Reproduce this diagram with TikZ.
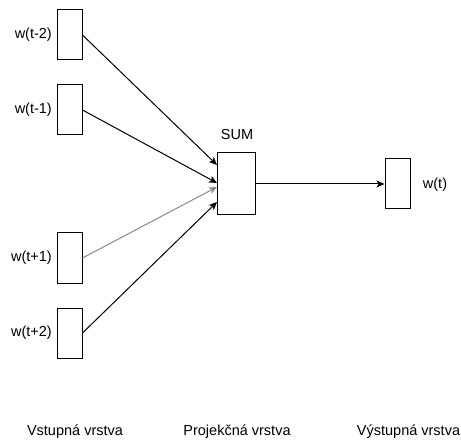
\documentclass[tikz,border=0pt]{standalone}
\usepackage{fontspec}
\setmainfont{Liberation Sans}
\usetikzlibrary{arrows.meta}
\begin{document}
\begin{tikzpicture}[x=1pt,y=-1pt,
  every node/.style={font=\fontsize{14.5}{16}\selectfont},
  wordbox/.style={draw=black,line width=1pt,fill=white,minimum width=25pt,minimum height=50pt,inner sep=0pt},
  sumbox/.style={draw=black,line width=1pt,fill=white,minimum width=38pt,minimum height=62pt,inner sep=0pt},
  link/.style={line width=1pt,-{Stealth[length=8pt,width=7pt,inset=2pt]}},
  lbl/.style={inner sep=0pt}]
\useasboundingbox (0,0) rectangle (461,441);

% input layer
\node[wordbox] (in1) at (69.5,35) {};
\node[wordbox] (in2) at (69.5,110) {};
\node[wordbox] (in3) at (69.5,258) {};
\node[wordbox] (in4) at (69.5,333) {};
\node[lbl,anchor=east] (l1) at (52,35) {w(t-2)};
\node[lbl,anchor=east] (l2) at (52,110) {w(t-1)};
\node[lbl,anchor=east] (l3) at (52,258) {w(t+1)};
\node[lbl,anchor=east] (l4) at (52,333) {w(t+2)};

% projection layer
\node[sumbox] (sum) at (236,184) {};
\node[lbl] (sumlbl) at (237,135) {SUM};

% output layer
\node[wordbox] (out) at (397.5,184) {};
\node[lbl] (outlbl) at (435,185) {w(t)};

% connections
\coordinate (s1) at (217,165);
\coordinate (s2) at (217,183);
\coordinate (s3) at (217,187);
\coordinate (s4) at (217,202);
\draw[link] (in1.east) -- (s1);
\draw[link] (in2.east) -- (s2);
\draw[link,draw=black!45,fill=black!45] (in3.east) -- (s3);
\draw[link] (in4.east) -- (s4);
\draw[link] (sum.east) -- (out.west);

% layer captions
\node[lbl] (cap1) at (75,432) {Vstupná vrstva};
\node[lbl] (cap2) at (237,432) {Projekčná vrstva};
\node[lbl] (cap3) at (408.5,432) {Výstupná vrstva};
\end{tikzpicture}
\end{document}
